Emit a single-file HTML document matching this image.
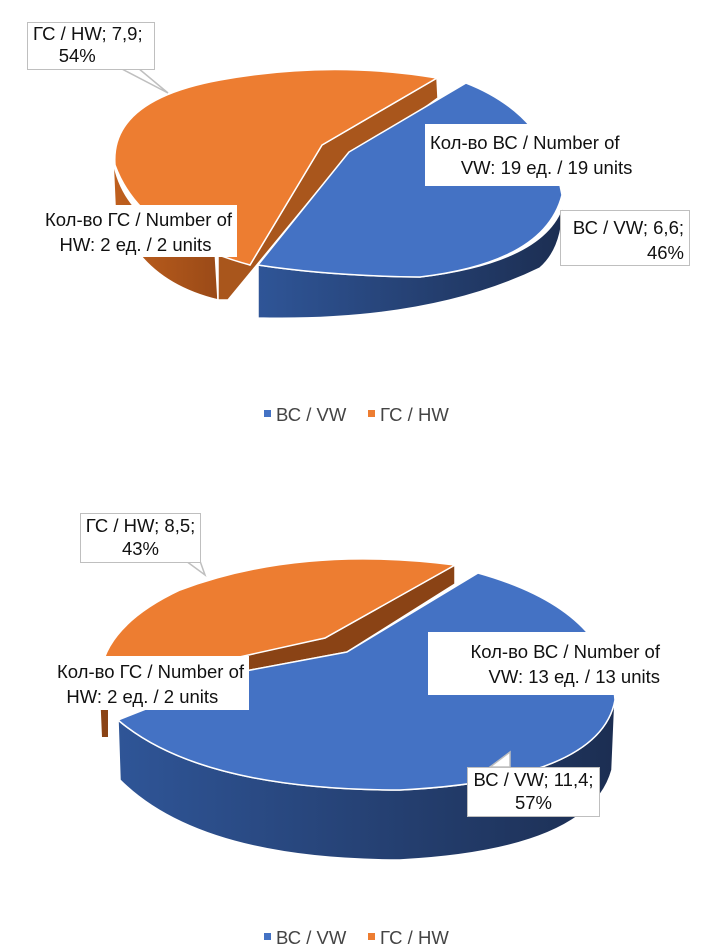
<!DOCTYPE html>
<html><head><meta charset="utf-8"><style>
body{margin:0;background:#fff;width:711px;height:952px;overflow:hidden;font-family:"Liberation Sans",sans-serif}
svg{position:absolute;left:0;top:0}
.l{position:absolute;background:#fff;font-size:18.5px;line-height:25px;color:#111;box-sizing:border-box;padding:0 5px;white-space:nowrap}
.b{border:1.5px solid #bfbfbf}
</style></head><body>
<svg width="711" height="952">
<defs>
<linearGradient id="bs" x1="0" x2="1" y1="0" y2="0"><stop offset="0" stop-color="#2f5597"/><stop offset="1" stop-color="#1c2e52"/></linearGradient>
<linearGradient id="os" x1="0" x2="1"><stop offset="0" stop-color="#c0601e"/><stop offset="1" stop-color="#9a4a17"/></linearGradient>
</defs>
<path d="M113,160 Q125,230 215,250 L218,300 Q135,280 115,205 Z" fill="url(#os)" stroke="#fff" stroke-width="1.5"/>
<path d="M437,78 L438,98 L330,176 L228,300 L218,300 L218,250 L250,265 L322,145 Z" fill="#a9561c" stroke="#fff" stroke-width="1.5"/>
<path d="M437,78 L322,145 L250,265 Q140,235 115,165 Q110,100 220,80 Q330,60 437,78 Z" fill="#ed7d31" stroke="#fff" stroke-width="1.5"/>
<path d="M258,265 L258,318 Q430,322 540,268 Q563,248 563,205 Q545,262 420,277 Q330,276 258,265 Z" fill="url(#bs)" stroke="#fff" stroke-width="1.5"/>
<path d="M349,152 L466,83 Q548,115 562,195 Q545,262 420,277 Q330,276 258,265 Z" fill="#4472c4" stroke="#fff" stroke-width="1.5"/>
<polygon points="120,68 168,93 138,68" fill="#fff" stroke="#bfbfbf" stroke-width="1.5"/>
<path d="M100,690 L102,737 L108,737 L108,700 Z" fill="#8a4315"/>
<path d="M455,565 L455,584 L347,652 L240,672 L240,655 L325,638 Z" fill="#8a4315" stroke="#fff" stroke-width="1.5"/>
<path d="M455,565 L325,638 L235,658 L100,690 Q95,630 180,590 Q300,545 455,565 Z" fill="#ed7d31" stroke="#fff" stroke-width="1.5"/>
<path d="M118,720 L120,780 Q200,860 400,860 Q590,850 612,770 L615,700 Q600,780 400,790 Q200,790 118,720 Z" fill="url(#bs)" stroke="#fff" stroke-width="1.5"/>
<path d="M347,652 L478,573 Q610,610 615,700 Q600,780 400,790 Q200,790 118,720 L240,672 Z" fill="#4472c4" stroke="#fff" stroke-width="1.5"/>
<polygon points="186,561 205,575 200,561" fill="#fff" stroke="#bfbfbf" stroke-width="1.5"/>
<polygon points="490,767 510,752 510,767" fill="#fff" stroke="#bfbfbf" stroke-width="1.5"/>
<rect x="264" y="410" width="7" height="7" fill="#4472c4"/><rect x="368" y="410" width="7" height="7" fill="#ed7d31"/>
<rect x="264" y="933" width="7" height="7" fill="#4472c4"/><rect x="368" y="933" width="7" height="7" fill="#ed7d31"/>
<text x="276" y="421" font-size="18.5" fill="#444" font-family="Liberation Sans">ВС / VW</text>
<text x="380" y="421" font-size="18.5" fill="#444" font-family="Liberation Sans">ГС / HW</text>
<text x="276" y="944" font-size="18.5" fill="#444" font-family="Liberation Sans">ВС / VW</text>
<text x="380" y="944" font-size="18.5" fill="#444" font-family="Liberation Sans">ГС / HW</text>
</svg>
<div class="l b" style="left:27px;top:22px;width:128px;height:48px;line-height:22px">ГС / HW; 7,9;<br>&nbsp;&nbsp;&nbsp;&nbsp;&nbsp;54%</div>
<div class="l" style="left:27px;top:205px;width:210px;height:52px;text-align:right;padding-top:2px">Кол-во ГС / Number of<br>HW: 2 ед. / 2 units&nbsp;&nbsp;&nbsp;&nbsp;</div>
<div class="l" style="left:425px;top:124px;width:228px;height:62px;padding-top:6px">Кол-во ВС / Number of<br>&nbsp;&nbsp;&nbsp;&nbsp;&nbsp;&nbsp;VW: 19 ед. / 19 units</div>
<div class="l b" style="left:560px;top:210px;width:130px;height:56px;text-align:right;padding-top:4px">ВС / VW; 6,6;<br>46%</div>
<div class="l b" style="left:80px;top:513px;width:121px;height:50px;text-align:center;padding:0 2px;line-height:23px">ГС / HW; 8,5;<br>43%</div>
<div class="l" style="left:27px;top:656px;width:222px;height:54px;text-align:right;padding-top:3px">Кол-во ГС / Number of<br>HW: 2 ед. / 2 units&nbsp;&nbsp;&nbsp;&nbsp;&nbsp;</div>
<div class="l" style="left:428px;top:632px;width:242px;height:63px;text-align:right;padding-top:7px;padding-right:10px">Кол-во ВС / Number of<br>VW: 13 ед. / 13 units</div>
<div class="l b" style="left:467px;top:767px;width:133px;height:50px;text-align:center;padding:0 2px;line-height:23px">ВС / VW; 11,4;<br>57%</div>
</body></html>
